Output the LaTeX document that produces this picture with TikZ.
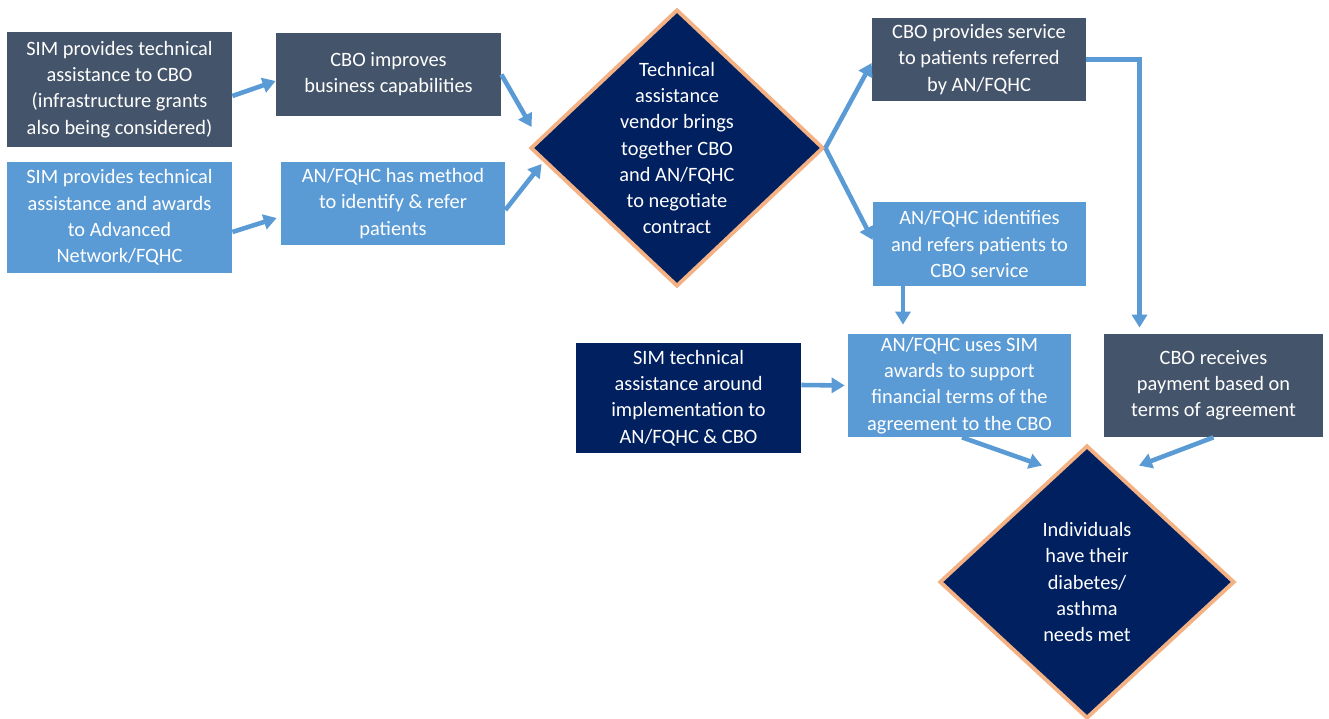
\documentclass[tikz,border=0pt]{standalone}
\usepackage{fontspec}
\setmainfont{Carlito}
\usetikzlibrary{positioning,shapes.geometric,arrows.meta}
\definecolor{slate}{HTML}{44546A}
\definecolor{skyblue}{HTML}{5B9BD5}
\definecolor{navy}{HTML}{002060}
\definecolor{peach}{HTML}{F4B183}

\begin{document}
\begin{tikzpicture}[
    txt/.style={text=white, align=center, font=\fontsize{11.6}{14.9}\selectfont},
    box/.style={rectangle, txt, inner sep=0pt},
    darkbox/.style={box, fill=slate},
    bluebox/.style={box, fill=skyblue},
    navybox/.style={box, fill=navy},
    decision/.style={diamond, draw=peach, line width=2.2pt, fill=navy, inner sep=0pt},
    arr/.style={draw=skyblue, line width=2.6pt, -{Triangle[length=0.26cm, width=0.3cm]}}
]
                \useasboundingbox (0,0) rectangle (26.58,-14.38);
                % Nodes
                \node[darkbox, minimum width=4.5cm, minimum height=2.3cm] (1) at (2.39, -1.79) {SIM provides technical\\assistance to CBO\\(infrastructure grants\\also being considered)}; % CBO track
                \node[bluebox, minimum width=4.5cm, minimum height=2.22cm] (2) at (2.39, -4.35) {SIM provides technical\\assistance and awards\\to Advanced\\Network/FQHC}; % AN track
                \node[darkbox, minimum width=4.5cm, minimum height=1.66cm] (3) at (7.77, -1.49) {CBO improves\\business capabilities};
                \node[bluebox, minimum width=4.48cm, minimum height=1.66cm] (4) at (7.86, -4.07) {AN/FQHC has method\\to identify \& refer\\patients};
                \node[decision, minimum width=5.86cm, minimum height=5.54cm,
                      label={[txt]center:Technical\\assistance\\vendor brings\\together CBO\\and AN/FQHC\\to negotiate\\contract}] (5) at (13.54, -2.96) {}; % Vendor
                \node[darkbox, minimum width=4.28cm, minimum height=1.66cm] (6) at (19.58, -1.19) {CBO provides service\\to patients referred\\by AN/FQHC};
                \node[bluebox, minimum width=4.26cm, minimum height=1.68cm] (7) at (19.59, -4.88) {AN/FQHC identifies\\and refers patients to\\CBO service};
                \node[navybox, minimum width=4.5cm, minimum height=2.2cm] (8) at (13.77, -7.96) {SIM technical\\assistance around\\implementation to\\AN/FQHC \& CBO};
                \node[bluebox, minimum width=4.46cm, minimum height=2.06cm] (9) at (19.19, -7.71) {AN/FQHC uses SIM\\awards to support\\financial terms of the\\agreement to the CBO};
                \node[darkbox, minimum width=4.38cm, minimum height=2.06cm] (10) at (24.27, -7.71) {CBO receives\\payment based on\\terms of agreement};
                \node[decision, minimum width=5.9cm, minimum height=5.46cm,
                      label={[txt]center:Individuals\\have their\\diabetes/\\asthma\\needs met}] (11) at (21.74, -11.64) {}; % Outcome

                % Edges
                \draw[arr] ([yshift=-0.13cm]1.east) -- ([yshift=-0.13cm]3.west);
                \draw[arr] ([yshift=-0.29cm]2.east) -- ([xshift=-0.08cm, yshift=-0.29cm]4.west);
                \draw[arr] (3.east) -- ([shift={(0.06,0.42)}]5.west);
                \draw[arr] ([yshift=-0.13cm]4.east) -- ([shift={(0.26,-0.32)}]5.west);
                \draw[arr] (5.east) -- ([yshift=-0.07cm]6.west);
                \draw[arr] (5.east) -- ([yshift=0.08cm]7.west);
                \draw[arr] (6.east) -| ([xshift=-1.48cm, yshift=0.12cm]10.north);
                \draw[arr] ([xshift=-1.53cm]7.south) -- ([xshift=-1.13cm, yshift=0.18cm]9.north);
                \draw[arr] ([yshift=0.26cm]8.east) -- ([xshift=-0.06cm]9.west);
                \draw[arr] ([xshift=0.05cm]9.south) -- ([shift={(-0.9,-0.44)}]11.north);
                \draw[arr] (10.south) -- ([shift={(1.04,-0.44)}]11.north);
\end{tikzpicture}
\end{document}
